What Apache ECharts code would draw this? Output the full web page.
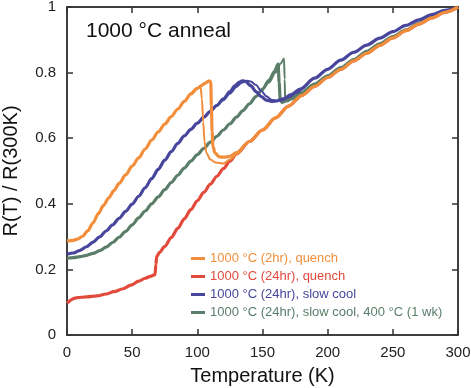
<!DOCTYPE html>
<html>
<head>
<meta charset="utf-8">
<script src="https://cdn.jsdelivr.net/npm/echarts@6/dist/echarts.min.js"></script>
<style>
  html, body { margin: 0; padding: 0; background: #fff; }
  #chart { width: 471px; height: 388px; }
</style>
</head>
<body>
<div id="chart"></div>
<script>
// tick values
const xTicks = [0, 50, 100, 150, 200, 250, 300]
const yTicks = [0, 0.2, 0.4, 0.6, 0.8, 1]

const legendNames = [
  '1000 °C (2hr), quench',
  '1000 °C (24hr), quench',
  '1000 °C (24hr), slow cool',
  '1000 °C (24hr), slow cool, 400 °C (1 wk)'
]

// 2hr quench, warming
const orangeT = [0, 4, 8, 12, 16, 20, 24, 28, 32, 36, 40, 45, 50, 55, 60, 65, 70, 75, 80, 85, 90, 95, 100, 103, 106, 109, 110.3, 110.8, 111.3, 112, 113.5, 117, 121, 125, 130, 140, 150, 160, 170, 180, 190, 200, 210, 220, 230, 240, 250, 260, 270, 280, 290, 300]
const orangeR = [0.287, 0.288, 0.292, 0.301, 0.318, 0.342, 0.37, 0.395, 0.418, 0.44, 0.462, 0.488, 0.515, 0.54, 0.567, 0.594, 0.619, 0.643, 0.666, 0.689, 0.712, 0.735, 0.752, 0.76, 0.768, 0.775, 0.772, 0.7, 0.62, 0.575, 0.555, 0.543, 0.542, 0.545, 0.556, 0.59, 0.625, 0.662, 0.698, 0.73, 0.758, 0.785, 0.81, 0.836, 0.859, 0.883, 0.906, 0.928, 0.948, 0.967, 0.984, 1]
// 2hr quench, cooling loop
const orangeLoopT = [95, 100, 102.5, 103.5, 104.5, 105.5, 107, 110, 114, 120, 125, 130, 135]
const orangeLoopR = [0.735, 0.752, 0.758, 0.72, 0.65, 0.59, 0.555, 0.535, 0.526, 0.523, 0.535, 0.55, 0.57]

// 24hr quench
const redT = [0, 1, 3, 5, 8, 15, 23, 30, 36, 43, 49, 55, 60, 64, 67.5, 68.2, 68.8, 71, 75, 80, 85, 90, 95, 100, 105, 110, 115, 120, 125, 130, 140, 150, 160, 170, 180, 190, 200, 210, 220, 230, 240, 250, 260, 270, 280, 290, 300]
const redR = [0.097, 0.1, 0.107, 0.111, 0.114, 0.116, 0.119, 0.125, 0.132, 0.141, 0.152, 0.164, 0.173, 0.179, 0.184, 0.215, 0.239, 0.252, 0.27, 0.297, 0.325, 0.354, 0.382, 0.409, 0.435, 0.46, 0.484, 0.507, 0.53, 0.552, 0.59, 0.625, 0.662, 0.698, 0.73, 0.758, 0.785, 0.81, 0.836, 0.859, 0.883, 0.906, 0.928, 0.948, 0.967, 0.984, 1]

// 24hr slow cool
const blueT = [0, 5, 10, 15, 20, 25, 30, 35, 40, 45, 50, 55, 60, 65, 70, 75, 80, 85, 90, 95, 100, 105, 110, 115, 120, 125, 129, 132, 134.5, 137, 141, 145, 149, 153, 157, 161, 166, 172, 179, 190, 200, 210, 220, 230, 240, 250, 260, 270, 280, 290, 300]
const blueR = [0.246, 0.25, 0.258, 0.269, 0.283, 0.299, 0.317, 0.336, 0.356, 0.377, 0.399, 0.423, 0.449, 0.477, 0.505, 0.533, 0.559, 0.584, 0.607, 0.627, 0.646, 0.664, 0.682, 0.7, 0.72, 0.742, 0.76, 0.77, 0.775, 0.773, 0.76, 0.742, 0.727, 0.716, 0.712, 0.714, 0.72, 0.733, 0.75, 0.783, 0.81, 0.838, 0.862, 0.884, 0.905, 0.925, 0.944, 0.961, 0.977, 0.99, 1]
const blueLoopT = [115, 120, 125, 130, 134, 138.5, 141, 145, 149, 153, 157, 161, 165, 170, 176, 182]
const blueLoopR = [0.698, 0.716, 0.736, 0.756, 0.769, 0.775, 0.773, 0.762, 0.744, 0.728, 0.717, 0.713, 0.715, 0.724, 0.738, 0.756]

// 24hr slow cool + 400 °C 1 wk
const greenT = [0, 5, 10, 15, 20, 25, 30, 35, 40, 45, 50, 55, 60, 65, 70, 75, 80, 85, 90, 95, 100, 105, 110, 115, 120, 125, 130, 135, 140, 145, 150, 155, 159, 162, 162.8, 163.6, 165, 168, 172, 179, 190, 200, 210, 220, 230, 240, 250, 260, 270, 280, 290, 300]
const greenR = [0.234, 0.236, 0.239, 0.243, 0.249, 0.257, 0.268, 0.282, 0.298, 0.316, 0.336, 0.357, 0.378, 0.4, 0.421, 0.443, 0.465, 0.487, 0.509, 0.53, 0.55, 0.569, 0.588, 0.606, 0.625, 0.644, 0.664, 0.684, 0.705, 0.727, 0.75, 0.776, 0.802, 0.826, 0.77, 0.715, 0.709, 0.714, 0.722, 0.737, 0.765, 0.79, 0.815, 0.84, 0.865, 0.888, 0.91, 0.93, 0.95, 0.97, 0.986, 1]
const greenLoopT = [150, 155, 160, 164, 166.5, 167, 167.4, 169, 172, 178]
const greenLoopR = [0.745, 0.77, 0.8, 0.828, 0.843, 0.78, 0.715, 0.712, 0.718, 0.734]

const colors = ['#F28E3B', '#E24A3B', '#47469C', '#5B7E6A']
const FONT = 'Liberation Sans, Arial, sans-serif'

function zip(xs, ys) {
  return xs.map((x, i) => [x, ys[i]])
}

// axisIdx 1 = twin top/right axes (same scale), used so they are drawn
function curve(idx, xs, ys, width, axisIdx) {
  return {
    name: legendNames[idx],
    type: 'line',
    xAxisIndex: axisIdx,
    yAxisIndex: axisIdx,
    data: zip(xs, ys),
    showSymbol: false,
    symbol: 'none',
    smooth: 0.3,
    smoothMonotone: 'x',
    lineStyle: { color: colors[idx], width: width },
    itemStyle: { color: colors[idx] },
    animation: false
  }
}

const chart = echarts.init(document.getElementById('chart'), null, { renderer: 'canvas' })

const axisLine = { show: true, onZero: false, lineStyle: { color: '#333', width: 1.5 } }
const axisTick = { show: true, inside: true, length: 6, lineStyle: { color: '#333', width: 1.5 } }

chart.setOption({
  backgroundColor: '#fff',
  animation: false,
  textStyle: { fontFamily: FONT },
  title: {
    text: '1000 °C anneal',
    left: 81,
    top: 16,
    textStyle: { fontFamily: FONT, fontSize: 21, fontWeight: 'normal', color: '#111' }
  },
  grid: {
    left: 67, right: 13, top: 7, bottom: 53, containLabel: false, outerBoundsMode: 'none',
    show: true, borderColor: '#333', borderWidth: 1.5, backgroundColor: 'transparent'
  },
  legend: {
    orient: 'vertical',
    left: 186,
    top: 247,
    icon: 'rect',
    itemWidth: 14,
    itemHeight: 3,
    itemGap: 5,
    textStyle: { fontFamily: FONT, fontSize: 13, lineHeight: 13 },
    data: legendNames.map((n, i) => ({ name: n, textStyle: { color: colors[i] } }))
  },
  xAxis: [
    {
      type: 'value', min: 0, max: 300, interval: 50, position: 'bottom',
      name: 'Temperature (K)', nameLocation: 'middle', nameGap: 31,
      nameTextStyle: { fontFamily: FONT, fontSize: 20, color: '#111' },
      axisLine: axisLine, axisTick: axisTick,
      axisLabel: { fontFamily: FONT, fontSize: 15, color: '#222', margin: 10,
        customValues: xTicks },
      splitLine: { show: false }
    },
    {
      type: 'value', min: 0, max: 300, interval: 50, position: 'top',
      axisLine: axisLine, axisTick: axisTick,
      axisLabel: { show: false }, splitLine: { show: false }
    }
  ],
  yAxis: [
    {
      type: 'value', min: 0, max: 1, interval: 0.2, position: 'left',
      name: 'R(T) / R(300K)', nameLocation: 'middle', nameGap: 46,
      nameTextStyle: { fontFamily: FONT, fontSize: 20, color: '#111' },
      axisLine: axisLine, axisTick: axisTick,
      axisLabel: { fontFamily: FONT, fontSize: 15, color: '#222', margin: 11,
        customValues: yTicks },
      splitLine: { show: false }
    },
    {
      type: 'value', min: 0, max: 1, interval: 0.2, position: 'right',
      axisLine: axisLine, axisTick: axisTick,
      axisLabel: { show: false }, splitLine: { show: false }
    }
  ],
  series: [
    curve(1, redT, redR, 3.2, 0),
    curve(3, greenT, greenR, 3.2, 0),
    curve(3, greenLoopT, greenLoopR, 2, 1),
    curve(2, blueT, blueR, 3.2, 0),
    curve(2, blueLoopT, blueLoopR, 2, 1),
    curve(0, orangeT, orangeR, 3.2, 0),
    curve(0, orangeLoopT, orangeLoopR, 2, 1)
  ]
})
</script>
</body>
</html>
